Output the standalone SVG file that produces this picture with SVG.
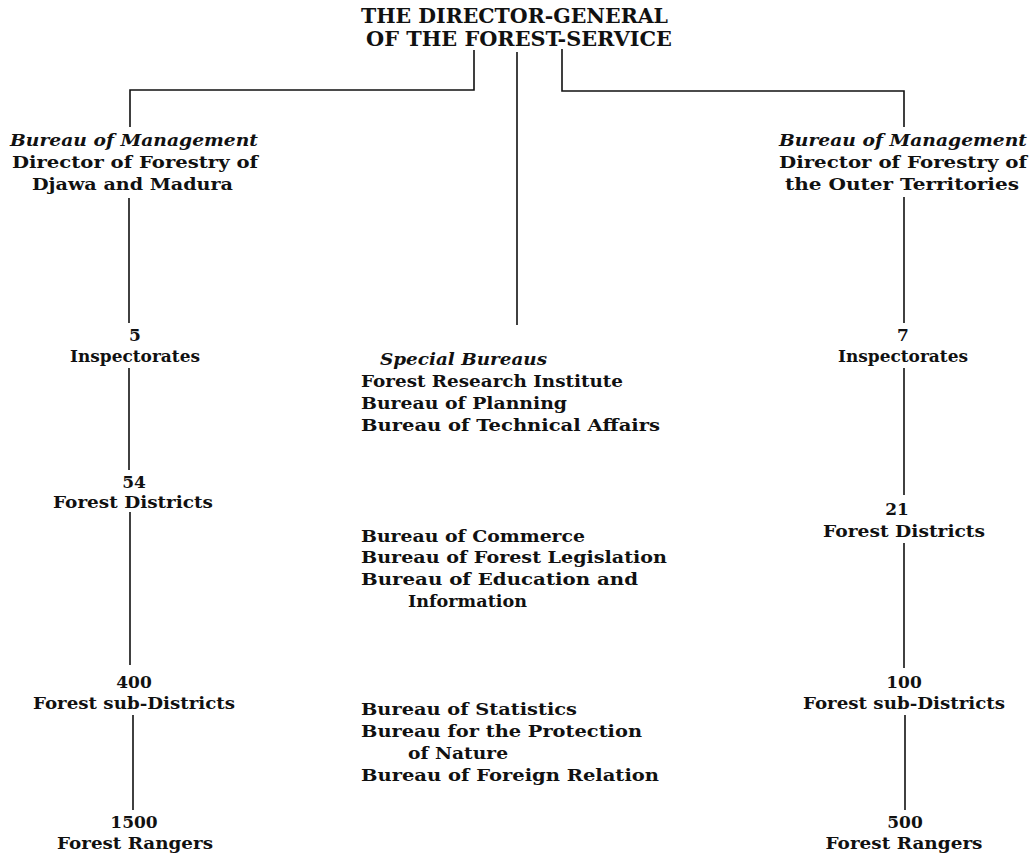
<svg xmlns="http://www.w3.org/2000/svg" width="1033" height="857" viewBox="0 0 1033 857">
<style>
text{font-family:"DejaVu Serif","Liberation Serif",serif;font-weight:bold;font-size:17px;fill:#111;lengthAdjust:spacing}
.t{font-size:20px}
.i{font-style:italic}
.m{text-anchor:middle}
.c{fill:none;stroke:#111;stroke-width:1.6}
</style>
<rect width="1033" height="857" fill="#fff"/>
<g id="connectors">
<path class="c" d="M474,50 V90 H130 V127"/>
<path class="c" d="M517,52 V325"/>
<path class="c" d="M562,49 V91 H904 V127"/>
<path class="c" d="M129,198 V323"/>
<path class="c" d="M129,368 V470"/>
<path class="c" d="M130,512 V665"/>
<path class="c" d="M133,715 V810"/>
<path class="c" d="M904,197 V323"/>
<path class="c" d="M904,368 V495"/>
<path class="c" d="M904,543 V668"/>
<path class="c" d="M905,715 V810"/>
</g>
<g id="director-general">
<text class="t" x="361" y="23" textLength="307" lengthAdjust="spacingAndGlyphs">THE DIRECTOR-GENERAL</text>
<text class="t" x="366" y="46" textLength="306" lengthAdjust="spacingAndGlyphs">OF THE FOREST-SERVICE</text>
</g>
<g id="bureau-djawa">
<text class="i" x="10" y="146" textLength="248" lengthAdjust="spacingAndGlyphs">Bureau of Management</text>
<text x="12" y="168" textLength="246" lengthAdjust="spacingAndGlyphs">Director of Forestry of</text>
<text x="32" y="190" textLength="201" lengthAdjust="spacingAndGlyphs">Djawa and Madura</text>
</g>
<g id="bureau-outer">
<text class="i" x="779" y="146" textLength="248" lengthAdjust="spacingAndGlyphs">Bureau of Management</text>
<text x="779" y="168" textLength="248" lengthAdjust="spacingAndGlyphs">Director of Forestry of</text>
<text x="785" y="190" textLength="234" lengthAdjust="spacingAndGlyphs">the Outer Territories</text>
</g>
<g id="special-bureaus">
<text class="i" x="380" y="365" textLength="167" lengthAdjust="spacingAndGlyphs">Special Bureaus</text>
<text x="361" y="387" textLength="262" lengthAdjust="spacingAndGlyphs">Forest Research Institute</text>
<text x="361" y="409" textLength="206" lengthAdjust="spacingAndGlyphs">Bureau of Planning</text>
<text x="361" y="431" textLength="299" lengthAdjust="spacingAndGlyphs">Bureau of Technical Affairs</text>
</g>
<g id="bureaus-2">
<text x="361" y="542" textLength="224" lengthAdjust="spacingAndGlyphs">Bureau of Commerce</text>
<text x="361" y="563" textLength="306" lengthAdjust="spacingAndGlyphs">Bureau of Forest Legislation</text>
<text x="361" y="585" textLength="277" lengthAdjust="spacingAndGlyphs">Bureau of Education and</text>
<text x="408" y="607" textLength="119" lengthAdjust="spacingAndGlyphs">Information</text>
</g>
<g id="bureaus-3">
<text x="361" y="715" textLength="216" lengthAdjust="spacingAndGlyphs">Bureau of Statistics</text>
<text x="361" y="737" textLength="281" lengthAdjust="spacingAndGlyphs">Bureau for the Protection</text>
<text x="408" y="759" textLength="100" lengthAdjust="spacingAndGlyphs">of Nature</text>
<text x="361" y="781" textLength="298" lengthAdjust="spacingAndGlyphs">Bureau of Foreign Relation</text>
</g>
<g id="left-inspectorates">
<text class="m" x="135" y="341">5</text>
<text class="m" x="135" y="362" textLength="130" lengthAdjust="spacingAndGlyphs">Inspectorates</text>
</g>
<g id="left-districts">
<text class="m" x="134" y="488">54</text>
<text class="m" x="133" y="508" textLength="160" lengthAdjust="spacingAndGlyphs">Forest Districts</text>
</g>
<g id="left-subdistricts">
<text class="m" x="134" y="688">400</text>
<text class="m" x="134" y="709" textLength="202" lengthAdjust="spacingAndGlyphs">Forest sub-Districts</text>
</g>
<g id="left-rangers">
<text class="m" x="134" y="828">1500</text>
<text class="m" x="135" y="849" textLength="156" lengthAdjust="spacingAndGlyphs">Forest Rangers</text>
</g>
<g id="right-inspectorates">
<text class="m" x="903" y="341">7</text>
<text class="m" x="903" y="362" textLength="130" lengthAdjust="spacingAndGlyphs">Inspectorates</text>
</g>
<g id="right-districts">
<text class="m" x="897" y="515">21</text>
<text class="m" x="904" y="537" textLength="162" lengthAdjust="spacingAndGlyphs">Forest Districts</text>
</g>
<g id="right-subdistricts">
<text class="m" x="904" y="688">100</text>
<text class="m" x="904" y="709" textLength="202" lengthAdjust="spacingAndGlyphs">Forest sub-Districts</text>
</g>
<g id="right-rangers">
<text class="m" x="905" y="828">500</text>
<text class="m" x="904" y="849" textLength="157" lengthAdjust="spacingAndGlyphs">Forest Rangers</text>
</g>
</svg>
